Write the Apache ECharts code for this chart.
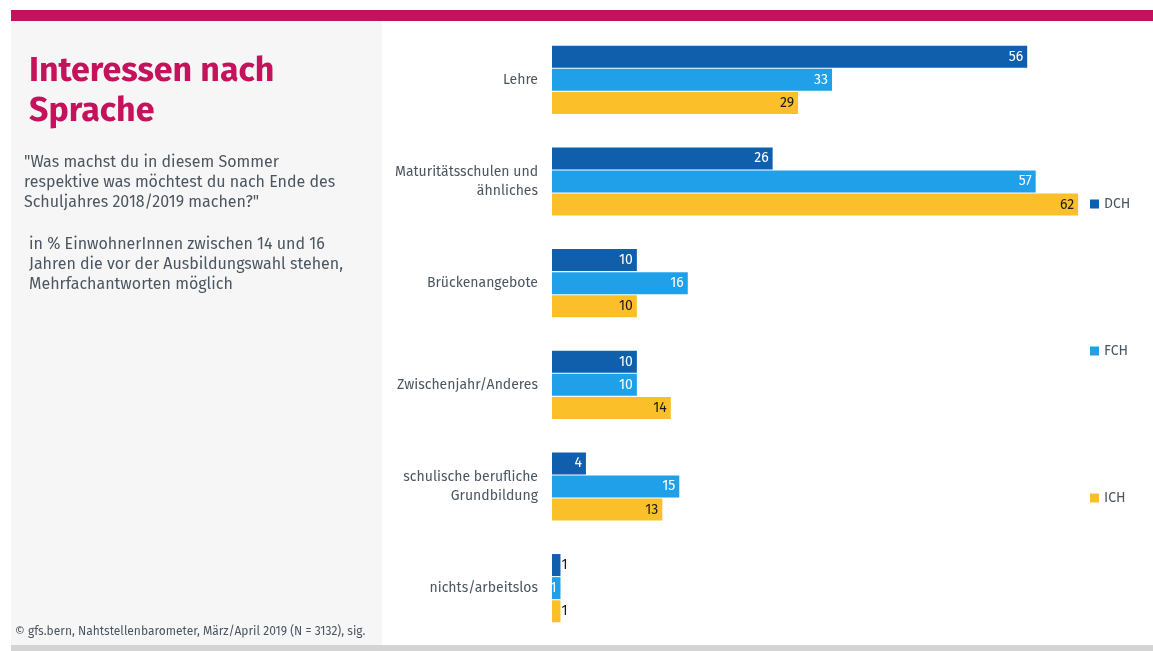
<!DOCTYPE html>
<html><head><meta charset="utf-8">
<script src="https://cdn.jsdelivr.net/npm/echarts@6/dist/echarts.min.js"></script>
<style>html,body{margin:0;padding:0;background:#fff}#c{width:1153px;height:651px}</style>
</head><body><div id="c"></div>
<script>
const categories = ['Lehre', 'Maturitätsschulen und\nähnliches', 'Brückenangebote', 'Zwischenjahr/Anderes', 'schulische berufliche\nGrundbildung', 'nichts/arbeitslos'];
const seriesNames = ['DCH', 'FCH', 'ICH'];
const dch = [56, 26, 10, 10, 4, 1];
const fch = [33, 57, 16, 10, 15, 1];
const ich = [29, 62, 10, 14, 13, 1];
const colors = ['#0f5fad', '#1fa0e8', '#fbbf2a'];
const labelColors = ['#ffffff', '#ffffff', '#1a1a1a'];

const font = "'Fira Sans','Noto Sans','Open Sans',sans-serif";
const chart = echarts.init(document.getElementById('c'));

function mk(name, vals, i) {
  return {
    name, type: 'bar', data: vals.map(v => {
      const d = { value: v };
      if (v < 3 && i !== 1) d.label = { position: 'right', distance: 1, color: '#1a1a1a' };
      return d;
    }),
    barWidth: 22, barGap: '5%',
    itemStyle: { color: colors[i] },
    label: { show: true, position: 'insideRight', distance: 4, color: labelColors[i], fontFamily: font, fontSize: 14 }
  };
}

chart.setOption({
  animation: false,
  textStyle: { fontFamily: font },
  graphic: [
    { type: 'rect', shape: { x: 11, y: 10, width: 1142, height: 11 }, style: { fill: '#c4135c' } },
    { type: 'rect', shape: { x: 11, y: 21, width: 371, height: 630 }, style: { fill: '#f6f6f6' }, z: -1 },
    { type: 'rect', shape: { x: 11, y: 645, width: 1142, height: 6 }, style: { fill: '#d4d4d4' } },
    { type: 'text', left: 29, top: 52, style: { text: 'Interessen nach\nSprache', fill: '#c4135c', font: 'bold 34px ' + font, lineHeight: 40 } },
    { type: 'text', left: 24, top: 153, style: { text: '"Was machst du in diesem Sommer\nrespektive was möchtest du nach Ende des\nSchuljahres 2018/2019 machen?"', fill: '#4b5661', font: '16px ' + font, lineHeight: 19.7 } },
    { type: 'text', left: 29, top: 235, style: { text: 'in % EinwohnerInnen zwischen 14 und 16\nJahren die vor der Ausbildungswahl stehen,\nMehrfachantworten möglich', fill: '#4b5661', font: '16px ' + font, lineHeight: 19.7 } },
    { type: 'text', left: 15, top: 626, style: { text: '© gfs.bern, Nahtstellenbarometer, März/April 2019 (N = 3132), sig.', fill: '#4b5661', font: '12px ' + font } }
  ],
  legend: {
    orient: 'vertical', left: 1085, top: 192, itemGap: 133, itemWidth: 9, itemHeight: 9,
    icon: 'rect', data: seriesNames,
    textStyle: { color: '#4b5661', fontSize: 14, fontFamily: font }
  },
  grid: { left: 552, top: 29, width: 594, height: 610, containLabel: false },
  xAxis: { type: 'value', min: 0, max: 70, show: false },
  yAxis: {
    type: 'category', data: categories, inverse: true,
    axisLine: { show: false }, axisTick: { show: false },
    axisLabel: { color: '#4b5661', fontSize: 14, fontFamily: font, margin: 14, lineHeight: 19, align: 'right' }
  },
  series: [mk('DCH', dch, 0), mk('FCH', fch, 1), mk('ICH', ich, 2)]
});
</script></body></html>
